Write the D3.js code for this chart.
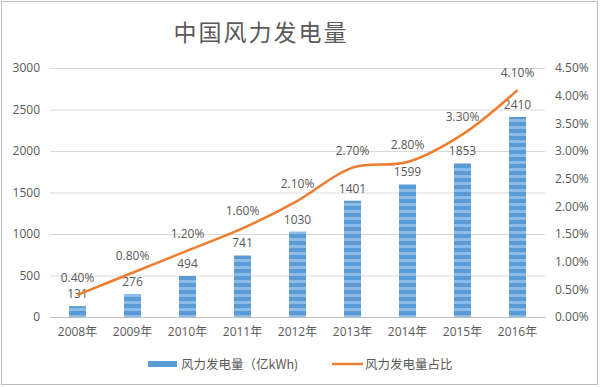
<!DOCTYPE html>
<html>
<head>
<meta charset="utf-8">
<script src="https://cdn.jsdelivr.net/npm/d3@7/dist/d3.min.js"></script>
<style>
  body { margin: 0; background: #fff; }
  svg text { font-family: "Open Sans", "Noto Sans CJK SC", sans-serif; fill: #595959; }
</style>
</head>
<body>
<div id="chart"></div>
<script>
// Data
var YEARS = ["2008年", "2009年", "2010年", "2011年", "2012年", "2013年", "2014年", "2015年", "2016年"];
var OUTPUT = [131, 276, 494, 741, 1030, 1401, 1599, 1853, 2410];
var SHARE = [0.40, 0.80, 1.20, 1.60, 2.10, 2.70, 2.80, 3.30, 4.10];
var LEFT_TICKS = [0, 500, 1000, 1500, 2000, 2500, 3000];
var RIGHT_TICKS = [0, 0.5, 1, 1.5, 2, 2.5, 3, 3.5, 4, 4.5];

var TITLE = "中国风力发电量";
var LEGEND = ["风力发电量（亿kWh)", "风力发电量占比"];

var BLUE = "#5b9bd5";
var ORANGE = "#ed7d31";

var render = function() {
  var width = 600, height = 387;
  var margins = { top: 68, right: 55, bottom: 70, left: 50 };
  var chartWidth = width - margins.left - margins.right;
  var chartHeight = height - margins.top - margins.bottom;

  var svg = d3.select("#chart").append("svg")
    .attr("width", width)
    .attr("height", height);

  // bar stripe pattern
  var pattern = svg.append("defs").append("pattern")
    .attr("id", "stripes")
    .attr("patternUnits", "userSpaceOnUse")
    .attr("width", 20)
    .attr("height", 7);
  pattern.append("rect").attr("width", 20).attr("height", 7).attr("fill", BLUE);
  pattern.append("rect").attr("y", 2).attr("width", 20).attr("height", 3).attr("fill", "#8dbbe6");

  // frame
  svg.append("rect")
    .attr("x", 1.5).attr("y", 1.5)
    .attr("width", width - 4).attr("height", height - 4)
    .attr("fill", "none")
    .attr("stroke", "#bfbfbf");

  svg.append("text")
    .attr("x", 261)
    .attr("y", 41)
    .attr("text-anchor", "middle")
    .attr("font-size", 23)
    .style("letter-spacing", "2px")
    .style("font-family", "'Noto Sans CJK SC', sans-serif")
    .text(TITLE);

  var chart = svg.append("g")
    .attr("transform", "translate(" + margins.left + "," + margins.top + ")");

  var xScale = d3.scaleBand()
    .domain(YEARS)
    .range([0, chartWidth]);

  var yScale = d3.scaleLinear()
    .domain([0, 3000])
    .range([chartHeight, 0]);

  var yScale2 = d3.scaleLinear()
    .domain([0, 4.5])
    .range([chartHeight, 0]);

  // grid
  chart.append("g")
    .attr("class", "grid")
    .call(d3.axisLeft(yScale).tickValues(LEFT_TICKS).tickSize(-chartWidth).tickFormat(""))
    .call(g => g.select(".domain").remove())
    .call(g => g.selectAll("line").attr("stroke", "#d9d9d9"));

  // left axis labels
  chart.append("g")
    .call(d3.axisLeft(yScale).tickValues(LEFT_TICKS).tickSize(0).tickPadding(10).tickFormat(d3.format("d")))
    .call(g => g.select(".domain").remove())
    .call(g => g.selectAll("text").attr("font-size", 12).style("font-family", "'Open Sans', sans-serif"));

  // right axis labels
  chart.append("g")
    .attr("transform", "translate(" + chartWidth + ",0)")
    .call(d3.axisRight(yScale2).tickValues(RIGHT_TICKS).tickSize(0).tickPadding(10)
      .tickFormat(d => d.toFixed(2) + "%"))
    .call(g => g.select(".domain").remove())
    .call(g => g.selectAll("text").attr("font-size", 12).style("font-family", "'Open Sans', sans-serif"));

  // x axis
  chart.append("g")
    .attr("transform", "translate(0," + chartHeight + ")")
    .call(d3.axisBottom(xScale).tickSize(0).tickPadding(10))
    .call(g => g.select(".domain").attr("stroke", "#bfbfbf"))
    .call(g => g.selectAll("text").attr("font-size", 12).style("font-family", "'Open Sans', 'Noto Sans CJK SC', sans-serif"));

  var barWidth = 17;

  chart.selectAll(".bar")
    .data(OUTPUT)
    .enter()
    .append("rect")
    .attr("class", "bar")
    .attr("x", (d, i) => xScale(YEARS[i]) + xScale.bandwidth() / 2 - barWidth / 2)
    .attr("y", d => yScale(d))
    .attr("width", barWidth)
    .attr("height", d => chartHeight - yScale(d))
    .attr("fill", "url(#stripes)");

  chart.selectAll(".bar-label")
    .data(OUTPUT)
    .enter()
    .append("text")
    .attr("class", "bar-label")
    .attr("x", (d, i) => xScale(YEARS[i]) + xScale.bandwidth() / 2)
    .attr("y", d => yScale(d) - 8)
    .attr("text-anchor", "middle")
    .attr("font-size", 12)
    .text(d => d);

  var line = d3.line()
    .x((d, i) => xScale(YEARS[i]) + xScale.bandwidth() / 2)
    .y(d => yScale2(d))
    .curve(d3.curveCatmullRom.alpha(0.5));

  chart.append("path")
    .datum(SHARE)
    .attr("d", line)
    .attr("fill", "none")
    .attr("stroke", ORANGE)
    .attr("stroke-width", 2.5);

  chart.selectAll(".share-label")
    .data(SHARE)
    .enter()
    .append("text")
    .attr("class", "share-label")
    .attr("x", (d, i) => xScale(YEARS[i]) + xScale.bandwidth() / 2)
    .attr("y", d => yScale2(d) - 13)
    .attr("text-anchor", "middle")
    .attr("font-size", 12)
    .text(d => d.toFixed(2) + "%");

  // legend
  var legend = svg.append("g").attr("transform", "translate(0,364)");
  legend.append("rect")
    .attr("x", 148).attr("y", -3)
    .attr("width", 29).attr("height", 6)
    .attr("fill", BLUE);
  legend.append("text")
    .attr("x", 181).attr("y", 5)
    .attr("font-size", 12.5)
    .style("font-family", "'Noto Sans CJK SC', sans-serif")
    .text(LEGEND[0]);
  legend.append("line")
    .attr("x1", 332).attr("x2", 363)
    .attr("y1", 0).attr("y2", 0)
    .attr("stroke", ORANGE)
    .attr("stroke-width", 2.5);
  legend.append("text")
    .attr("x", 365).attr("y", 5)
    .attr("font-size", 12.5)
    .style("font-family", "'Noto Sans CJK SC', sans-serif")
    .text(LEGEND[1]);
};

window.onload = render;
</script>
</body>
</html>
